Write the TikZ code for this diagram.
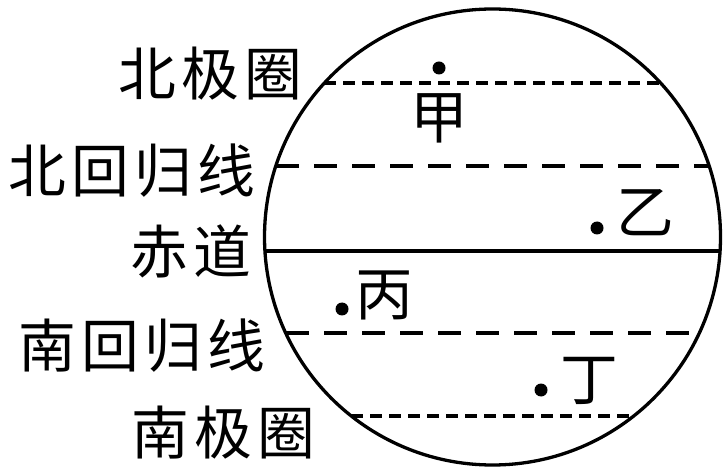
\documentclass[tikz,border=0pt]{standalone}
\usepackage{fontspec}
\newfontfamily\cjk[LetterSpace=9]{Noto Sans CJK SC}
\begin{document}
\begin{tikzpicture}[x=1bp,y=-1bp,
  lbl/.style={inner sep=0pt,font=\cjk\fontsize{58}{58}\selectfont},
  rim/.style={line width=3.3bp},
  shortdash/.style={line width=3.3bp,dash pattern=on 12bp off 7bp},
  longdash/.style={line width=3.3bp,dash pattern=on 23bp off 15bp},
  spot/.style={circle,fill=black,inner sep=0pt,minimum size=13bp}]
\useasboundingbox (0,0) rectangle (723,470);
\coordinate (O) at (492.5,237);
% parallels, clipped to the globe
\begin{scope}
  \clip (O) circle[radius=228];
  \draw[shortdash] (324,83) -- (662,83);
  \draw[longdash] (276,166) -- (712,166);
  \draw[rim] (260,251) -- (725,251);
  \draw[longdash] (286,333) -- (700,333);
  \draw[shortdash] (351,416) -- (636,416);
\end{scope}
\draw[rim] (O) circle[radius=228];
% left labels
\node[lbl,anchor=base west] (bjq) at (118,96) {北极圈};
\node[lbl,anchor=base west] (bhgx) at (8,193) {北回归线};
\node[lbl,anchor=base west] (cd) at (130,274) {赤道};
\node[lbl,anchor=base west] (nhgx) at (18,367) {南回归线};
\node[lbl,anchor=base west] (njq) at (131,454) {南极圈};
% points
\node[spot] (p1) at (439,68) {};
\node[lbl,anchor=base] (t1) at (439,139) {甲};
\node[spot] (p2) at (597,228) {};
\node[lbl,anchor=base] (t2) at (645,234) {乙};
\node[spot] (p3) at (342,309) {};
\node[lbl,anchor=base] (t3) at (384,316) {丙};
\node[spot] (p4) at (541,390) {};
\node[lbl,anchor=base] (t4) at (589,400) {丁};
\end{tikzpicture}
\end{document}
